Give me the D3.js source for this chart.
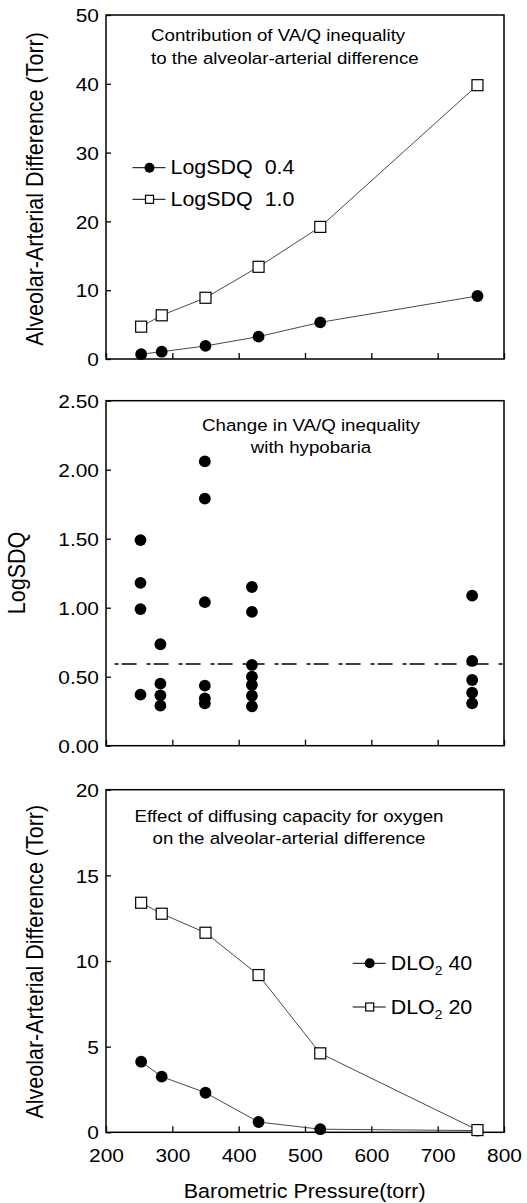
<!DOCTYPE html>
<html>
<head>
<meta charset="utf-8">
<script src="https://cdn.jsdelivr.net/npm/d3@7"></script>
<style>
  html, body { margin: 0; padding: 0; background: #fff; }
  svg { display: block; }
</style>
</head>
<body>
<script>
var width = 527;
var height = 1203;
var fontFamily = "'Liberation Sans', Arial, Helvetica, sans-serif";
var stretch = 1.1;
var lineColor = "#333";

// shared x values (barometric pressure, torr)
var pressure = [253, 284, 350, 430, 523, 760];
var xTicks = [200, 300, 400, 500, 600, 700, 800];

// panel 1: contribution of VA/Q inequality
var logSDQ04 = [0.7, 1.06, 1.9, 3.25, 5.33, 9.16];
var logSDQ10 = [4.7, 6.35, 8.9, 13.4, 19.2, 39.8];
var panel1Ticks = [0, 10, 20, 30, 40, 50];

// panel 2: change in VA/Q inequality with hypobaria
var sdqPressure = [252, 282, 349, 420, 752];
var sdqValues = [
  [1.49, 1.18, 0.99, 0.37],
  [0.735, 0.45, 0.365, 0.29],
  [2.06, 1.79, 1.04, 0.435, 0.343, 0.307],
  [1.15, 0.97, 0.585, 0.50, 0.44, 0.362, 0.285],
  [1.087, 0.614, 0.476, 0.384, 0.307]
];
var sdqThreshold = 0.592;
var panel2Ticks = [0, 0.5, 1.0, 1.5, 2.0, 2.5];

// panel 3: effect of diffusing capacity
var dlo40 = [4.12, 3.25, 2.31, 0.6, 0.18, 0.1];
var dlo20 = [13.4, 12.76, 11.65, 9.18, 4.61, 0.13];
var panel3Ticks = [0, 5, 10, 15, 20];

var svg = d3.select("body").append("svg")
  .attr("width", width)
  .attr("height", height)
  .attr("font-family", fontFamily);

var x = d3.scaleLinear().domain([200, 800]).range([106, 504]);

var addText = function(parent, px, py, str, size, anchor, rotate) {
  return parent.append("text")
    .attr("transform", "translate(" + px + "," + py + ") scale(" + stretch + ",1)" + (rotate ? " rotate(" + rotate + ")" : ""))
    .attr("font-size", size)
    .attr("text-anchor", anchor || "start")
    .attr("fill", "#000")
    .text(str);
};

var makePanel = function(domain, top, bottom, ticks, fmt, xLabels) {
  var y = d3.scaleLinear().domain(domain).range([bottom, top]);
  var g = svg.append("g");

  var yAxis = g.append("g")
    .attr("transform", "translate(" + x.range()[0] + ",0)")
    .call(d3.axisLeft(y).tickValues(ticks).tickSizeInner(-5).tickSizeOuter(0).tickFormat(fmt));
  yAxis.select(".domain").remove();
  yAxis.selectAll("line").attr("stroke", "#000").attr("stroke-width", 1.3);
  yAxis.selectAll("text")
    .attr("x", null).attr("dy", "0.35em")
    .attr("transform", "translate(-7,0) scale(" + stretch + ",1)")
    .attr("font-size", 19).attr("font-family", fontFamily).attr("fill", "#000");

  var xAxis = g.append("g")
    .attr("transform", "translate(0," + bottom + ")")
    .call(d3.axisBottom(x).tickValues(xTicks).tickSizeInner(-6).tickSizeOuter(0)
      .tickFormat(xLabels ? d3.format("d") : function() { return ""; }));
  xAxis.select(".domain").remove();
  xAxis.selectAll("line").attr("stroke", "#000").attr("stroke-width", 1.3);
  xAxis.selectAll("text")
    .attr("y", null).attr("dy", null)
    .attr("transform", "translate(0,29.5) scale(" + stretch + ",1)")
    .attr("font-size", 19).attr("font-family", fontFamily).attr("fill", "#000");

  g.append("rect")
    .attr("x", x.range()[0]).attr("y", top)
    .attr("width", x.range()[1] - x.range()[0]).attr("height", bottom - top)
    .attr("fill", "none").attr("stroke", "#000").attr("stroke-width", 1.5);

  return { g: g, y: y };
};

var drawSeries = function(panel, xs, values, marker) {
  var line = d3.line().x(function(d, i) { return x(xs[i]); }).y(function(d) { return panel.y(d); });
  panel.g.append("path")
    .datum(values)
    .attr("d", line)
    .attr("fill", "none")
    .attr("stroke", lineColor)
    .attr("stroke-width", 0.9);
  drawMarkers(panel.g, values.map(function(v, i) { return [x(xs[i]), panel.y(v)]; }), marker, marker === "circle" ? 5.9 : 11);
};

var drawMarkers = function(g, points, marker, size) {
  if (marker === "circle") {
    g.selectAll(null).data(points).enter().append("circle")
      .attr("cx", function(d) { return d[0]; })
      .attr("cy", function(d) { return d[1]; })
      .attr("r", size)
      .attr("fill", "#000");
  } else {
    g.selectAll(null).data(points).enter().append("rect")
      .attr("x", function(d) { return d[0] - size / 2; })
      .attr("y", function(d) { return d[1] - size / 2; })
      .attr("width", size).attr("height", size)
      .attr("fill", "#fff").attr("stroke", "#000").attr("stroke-width", 1.2);
  }
};

var drawLegendItem = function(g, lx, ly, marker, parts) {
  g.append("line")
    .attr("x1", lx).attr("x2", lx + 33).attr("y1", ly).attr("y2", ly)
    .attr("stroke", "#000").attr("stroke-width", 1);
  drawMarkers(g, [[lx + 17, ly]], marker, marker === "circle" ? 5 : 8);
  var t = addText(g, lx + 38, ly + 6.5, "", 19.5, "start");
  parts.forEach(function(p) {
    var span = t.append("tspan").text(p.text);
    if (p.sub) span.attr("font-size", 12.5).attr("dy", 5);
    if (p.after) span.attr("dy", -5);
  });
};

// ---- panel 1 ----
var p1 = makePanel([0, 50], 15, 359, panel1Ticks, d3.format("d"), false);
drawSeries(p1, pressure, logSDQ04, "circle");
drawSeries(p1, pressure, logSDQ10, "square");
addText(p1.g, 151, 40.5, "Contribution of VA/Q inequality", 17, "start");
addText(p1.g, 151, 63.5, "to the alveolar-arterial difference", 17, "start");
drawLegendItem(p1.g, 132.5, 167.7, "circle", [{ text: "LogSDQ\u00a0\u00a00.4" }]);
drawLegendItem(p1.g, 132.5, 199.3, "square", [{ text: "LogSDQ\u00a0\u00a01.0" }]);
addText(svg, 42.5, 189, "Alveolar-Arterial Difference (Torr)", 21.5, "middle", -90);

// ---- panel 2 ----
var p2 = makePanel([0, 2.5], 400.7, 745.7, panel2Ticks, d3.format(".2f"), false);
p2.g.append("line")
  .attr("x1", x(213)).attr("x2", x(800))
  .attr("y1", p2.y(sdqThreshold)).attr("y2", p2.y(sdqThreshold))
  .attr("stroke", "#000").attr("stroke-width", 1.5)
  .attr("stroke-dasharray", "4,3,15,10");
sdqValues.forEach(function(col, i) {
  drawMarkers(p2.g, col.map(function(v) { return [x(sdqPressure[i]), p2.y(v)]; }), "circle", 5.9);
});
addText(p2.g, 311, 431, "Change in VA/Q inequality", 17, "middle");
addText(p2.g, 311, 453, "with hypobaria", 17, "middle");
addText(svg, 24.5, 573, "LogSDQ", 21.5, "middle", -90);

// ---- panel 3 ----
var p3 = makePanel([0, 20], 789.7, 1132.3, panel3Ticks, d3.format("d"), true);
drawSeries(p3, pressure, dlo40, "circle");
drawSeries(p3, pressure, dlo20, "square");
addText(p3.g, 289, 822.3, "Effect of diffusing capacity for oxygen", 17, "middle");
addText(p3.g, 289, 844.3, "on the alveolar-arterial difference", 17, "middle");
drawLegendItem(p3.g, 352.7, 963.3, "circle", [{ text: "DLO" }, { text: "2", sub: true }, { text: "\u00a040", after: true }]);
drawLegendItem(p3.g, 352.7, 1007, "square", [{ text: "DLO" }, { text: "2", sub: true }, { text: "\u00a020", after: true }]);
addText(svg, 42.5, 961.7, "Alveolar-Arterial Difference (Torr)", 21.5, "middle", -90);
addText(svg, 304.7, 1198, "Barometric Pressure(torr)", 19.5, "middle");
</script>
</body>
</html>
